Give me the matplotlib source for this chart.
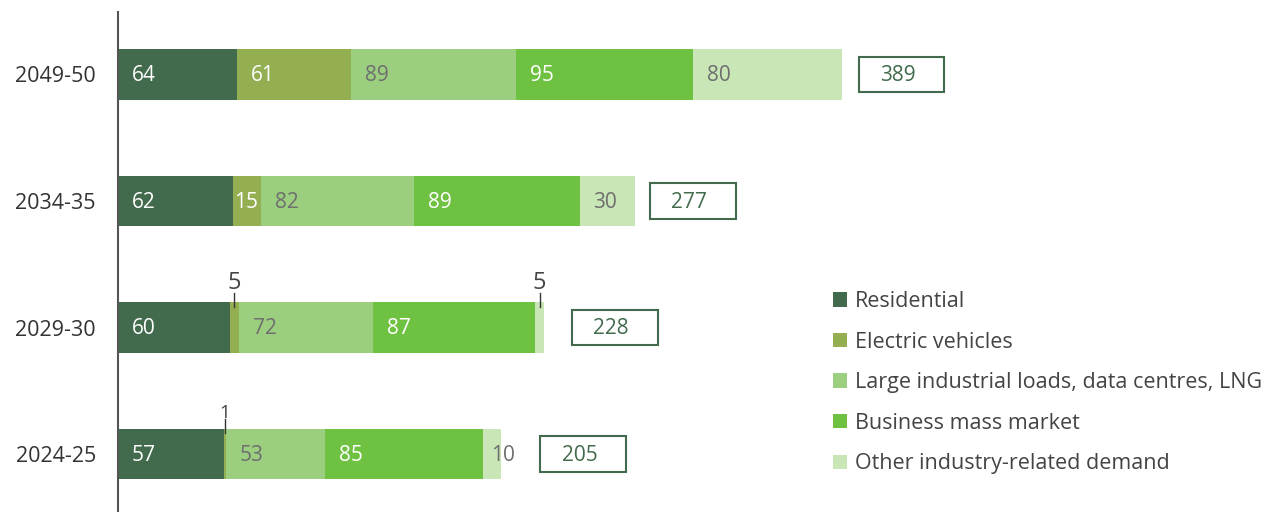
import matplotlib
matplotlib.use("Agg")
import matplotlib.pyplot as plt
from matplotlib.patches import Rectangle, Patch

plt.rcParams['font.family'] = ['Open Sans', 'DejaVu Sans']

# data, bottom row first
years = ["2024-25", "2029-30", "2034-35", "2049-50"]
residential = [57, 60, 62, 64]
electric_vehicles = [1, 5, 15, 61]
large_industrial = [53, 72, 82, 89]
business = [85, 87, 89, 95]
other = [10, 5, 30, 80]
totals = [205, 228, 277, 389]

series_names = ["Residential", "Electric vehicles",
                "Large industrial loads, data centres, LNG",
                "Business mass market", "Other industry-related demand"]
series = [residential, electric_vehicles, large_industrial, business, other]
colours = ["#426b4d", "#94af52", "#9bcf7f", "#6fc241", "#c8e6b6"]
label_colours = ["white", "white", "#6e6e6e", "white", "#6e6e6e"]

# gap between bar end and total box (data units), per row
box_gap = [22, 16, 9, 9]

fs = 15.5
fs_bar = 15

fig = plt.figure(figsize=(12.68, 5.12), dpi=100)
ax = fig.add_axes([118 / 1268, 0, 1 - 118 / 1268, 500 / 512])

bar_h = 0.4
ypos = list(range(len(years)))
px = 1.861  # pixels per data unit on x

left = [0] * len(years)
for j, (name, vals) in enumerate(zip(series_names, series)):
    ax.barh(ypos, vals, left=left, height=bar_h, color=colours[j], label=name)
    for i, v in enumerate(vals):
        x0 = left[i]
        if v <= 5:
            # tiny segments: label above with a short leader line
            xc = x0 + v / 2
            top = ypos[i] + bar_h / 2
            ax.plot([xc, xc], [top - 0.035, top + 0.075], color="#333333", lw=1)
            ax.text(xc, top + 0.055, str(v), ha="center", va="bottom",
                    fontsize=17 if v >= 5 else 13.5, color="#444444")
        else:
            pad = 14 if v >= 20 else (1 if j == 1 else 8)
            ax.text(x0 + pad / px, ypos[i] - 0.01, str(v), ha="left", va="center",
                    fontsize=fs_bar, color=label_colours[j])
        left[i] = x0 + v

# total boxes
box_w = 46
box_h = 0.28
for i, t in enumerate(totals):
    bx = t + box_gap[i]
    ax.add_patch(Rectangle((bx, ypos[i] - box_h / 2), box_w, box_h,
                           facecolor="white", edgecolor="#426b4d", lw=1.5))
    ax.text(bx + box_w / 2 - 2, ypos[i] - 0.01, str(t), ha="center", va="center",
            fontsize=fs_bar, color="#426b4d")

ax.set_xlim(0, (1268 - 118) / px)
ax.set_ylim(-0.458, 3.494)
ax.set_yticks(ypos)
ax.set_yticklabels(years, fontsize=fs, color="#333333")
ax.tick_params(axis="y", length=0, pad=16)
ax.set_xticks([])
for s in ["top", "right", "bottom"]:
    ax.spines[s].set_visible(False)
ax.spines["left"].set_color("#555555")
ax.spines["left"].set_linewidth(1.5)

handles = [Patch(facecolor=c) for c in colours]
fig.legend(handles, series_names, loc="upper left",
           bbox_to_anchor=(833 / 1268, 1 - 291 / 512), frameon=False,
           fontsize=fs, labelcolor="#444444", handlelength=0.65,
           handleheight=0.65, handletextpad=0.35, labelspacing=0.91,
           borderpad=0, borderaxespad=0)

fig.savefig("out.png", dpi=100)
